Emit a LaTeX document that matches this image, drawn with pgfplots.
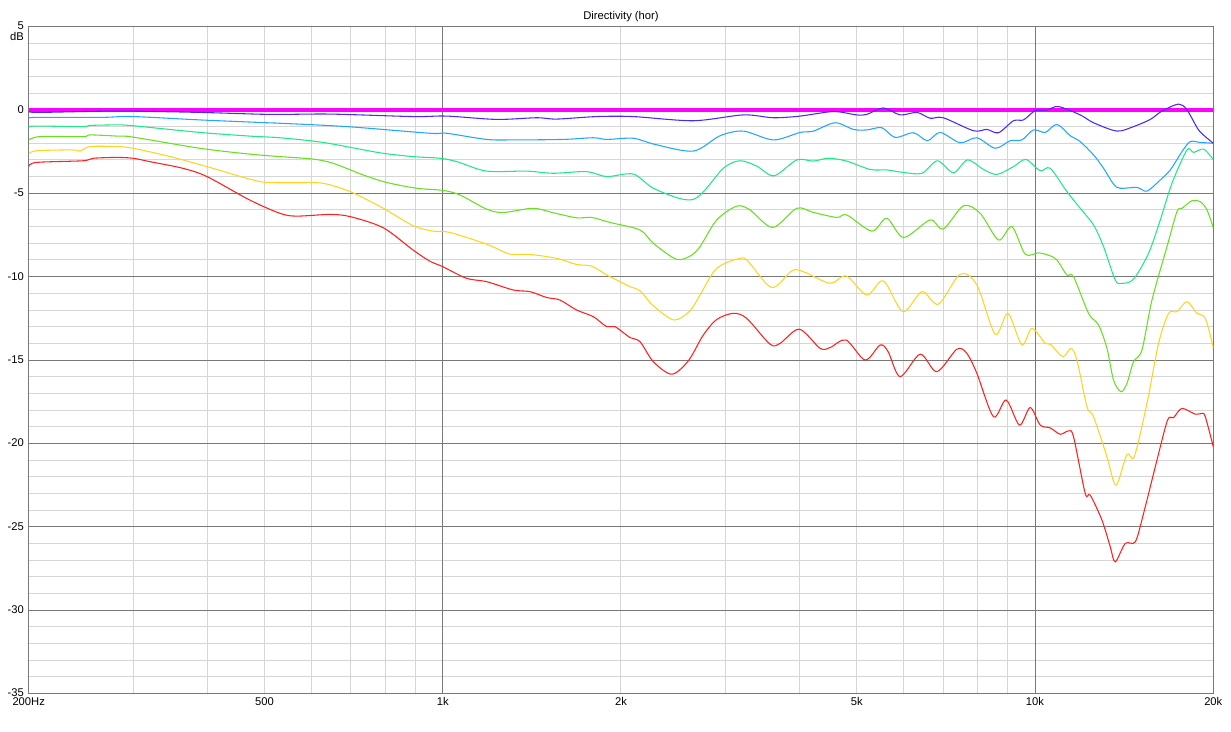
\documentclass[border=0pt]{standalone}
\usepackage{fontspec}
\setmainfont{Liberation Sans}
\usepackage{pgfplots}
\pgfplotsset{compat=1.18}
\definecolor{cRed}{HTML}{FF2020}
\definecolor{cYel}{HTML}{FFD420}
\definecolor{cGrn}{HTML}{66E020}
\definecolor{cTeal}{HTML}{20E888}
\definecolor{cLB}{HTML}{20A8FF}
\definecolor{cBV}{HTML}{4A28FF}
\definecolor{cMag}{HTML}{FF00FF}
\definecolor{gMin}{HTML}{D6D6D6}
\definecolor{gMaj}{HTML}{787878}
\begin{document}
\begin{tikzpicture}
\begin{axis}[name=ax,
  scale only axis, width=888.2pt, height=500.1pt,
  xmode=log, xmin=200, xmax=20000, ymin=-35, ymax=5,
  axis line style={gMaj, line width=0.75pt},
  major tick length=0pt, minor tick length=0pt,
  tick label style={font=\fontsize{8.4}{10}\selectfont, black},
  xtick={200,500,2000,5000,20000},
  xticklabels={200Hz,500,2k,5k,20k},
  extra x ticks={1000,10000},
  extra x tick labels={1k,10k},
  extra x tick style={grid=major},
  minor xtick={300,400,500,600,700,800,900,2000,3000,4000,5000,6000,7000,8000,9000},
  xmajorgrids=false, xminorgrids=true,
  ytick={-35,-30,-25,-20,-15,-10,-5,0,5},
  yticklabels={\raisebox{1.3pt}{-35},-30,-25,-20,-15,-10,-5,0,5},
  minor y tick num=4,
  ymajorgrids=true, yminorgrids=true,
  major grid style={gMaj, line width=0.75pt},
  minor grid style={gMin, line width=0.75pt},
  xticklabel style={anchor=north, inner sep=0pt, yshift=-2.6pt},
  yticklabel style={anchor=east, inner sep=0pt, xshift=-3.4pt, yshift=0.3pt},
  every axis plot/.append style={line width=0.8pt, smooth, tension=0.5},
]
\addplot[cMag, line width=2.4pt] coordinates {(200,0) (20000,0)};
\addplot[cRed] coordinates {(200,-3.4) (206,-3.15) (247,-3.05) (257,-2.9) (282,-2.85) (300,-2.9) (320,-3.1) (364,-3.5) (400,-4.0) (472,-5.4) (531,-6.2) (566,-6.37) (645,-6.27) (698,-6.4) (794,-7.07) (891,-8.4) (951,-9.07) (1000,-9.4) (1097,-10.1) (1186,-10.3) (1316,-10.8) (1404,-10.9) (1498,-11.25) (1577,-11.4) (1683,-12.0) (1796,-12.4) (1892,-13.0) (1954,-13.0) (2071,-13.65) (2153,-13.9) (2268,-15.1) (2436,-15.85) (2598,-15.05) (2754,-13.5) (2901,-12.57) (3095,-12.2) (3260,-12.5) (3570,-14.05) (3712,-14.0) (4000,-13.15) (4337,-14.3) (4509,-14.25) (4798,-13.8) (5166,-15.0) (5477,-14.1) (5650,-14.5) (5921,-16.0) (6400,-14.65) (6828,-15.7) (7380,-14.35) (7673,-14.6) (7978,-15.8) (8510,-18.4) (8940,-17.4) (9415,-18.9) (9815,-17.85) (10204,-18.9) (10609,-19.07) (11030,-19.45) (11392,-19.25) (11615,-19.6) (12156,-23.0) (12395,-23.1) (12972,-24.6) (13398,-26.2) (13660,-27.1) (14202,-26.0) (14766,-25.9) (15250,-24.2) (16066,-21.0) (16744,-18.6) (17138,-18.45) (17708,-17.9) (18648,-18.25) (19140,-18.2) (19388,-18.4) (20000,-20.2)};
\addplot[cYel] coordinates {(200,-2.65) (206,-2.45) (237,-2.4) (244,-2.47) (254,-2.2) (282,-2.2) (300,-2.3) (342,-2.75) (400,-3.4) (472,-4.15) (505,-4.35) (574,-4.37) (628,-4.4) (698,-4.9) (794,-5.9) (892,-6.95) (964,-7.27) (1028,-7.35) (1186,-8.05) (1299,-8.65) (1404,-8.67) (1557,-8.9) (1683,-9.27) (1785,-9.37) (1892,-9.9) (1967,-10.2) (2071,-10.6) (2153,-10.85) (2268,-11.75) (2458,-12.6) (2615,-12.05) (2719,-11.1) (2901,-9.5) (3177,-8.9) (3281,-9.1) (3594,-10.65) (3885,-9.65) (4064,-9.7) (4509,-10.4) (4798,-9.95) (5200,-11.1) (5547,-10.25) (5984,-12.1) (6443,-10.9) (6870,-11.65) (7475,-9.85) (7978,-10.5) (8566,-13.45) (9000,-12.2) (9503,-14.1) (9880,-13.1) (10405,-14.0) (10609,-14.05) (11146,-14.8) (11498,-14.3) (11770,-15.0) (12237,-17.8) (12555,-18.4) (13227,-20.8) (13698,-22.5) (14297,-20.65) (14708,-20.8) (15454,-17.6) (16166,-14.0) (16808,-12.2) (17366,-12.1) (18056,-11.5) (18772,-12.2) (19388,-12.5) (20000,-14.25)};
\addplot[cGrn] coordinates {(200,-1.8) (209,-1.6) (247,-1.6) (254,-1.5) (282,-1.57) (300,-1.63) (389,-2.3) (472,-2.65) (531,-2.8) (604,-2.95) (653,-3.2) (734,-3.9) (804,-4.35) (904,-4.7) (1002,-4.83) (1069,-5.1) (1186,-5.95) (1265,-6.15) (1422,-5.9) (1537,-6.17) (1683,-6.47) (1785,-6.45) (1916,-6.75) (2153,-7.2) (2268,-8.0) (2477,-8.95) (2615,-8.77) (2719,-8.2) (2901,-6.6) (3136,-5.77) (3302,-6.0) (3608,-7.05) (3961,-5.9) (4226,-6.15) (4628,-6.45) (4811,-6.3) (5302,-7.27) (5621,-6.5) (6000,-7.65) (6652,-6.6) (7000,-7.15) (7572,-5.75) (8082,-6.2) (8677,-7.8) (9141,-7.0) (9626,-8.65) (10137,-8.57) (10609,-8.75) (10889,-9.0) (11321,-9.9) (11615,-10.0) (12313,-12.2) (12802,-12.9) (13227,-14.3) (13570,-16.2) (13967,-16.9) (14297,-16.4) (14668,-15.1) (15156,-14.4) (15758,-11.4) (16704,-8.2) (17366,-6.1) (17708,-5.9) (18410,-5.45) (19014,-5.5) (19516,-6.0) (20000,-7.07)};
\addplot[cTeal] coordinates {(200,-1.05) (205,-0.97) (247,-1.0) (254,-0.93) (282,-0.9) (300,-0.95) (389,-1.35) (472,-1.57) (531,-1.67) (628,-1.95) (783,-2.57) (892,-2.8) (989,-2.9) (1056,-3.1) (1186,-3.67) (1386,-3.67) (1537,-3.8) (1750,-3.7) (1892,-4.0) (2098,-3.85) (2283,-4.75) (2649,-5.37) (2977,-3.5) (3177,-3.05) (3390,-3.37) (3626,-3.95) (3961,-3.0) (4226,-3.07) (4479,-2.9) (4811,-3.07) (5267,-3.57) (5621,-3.6) (6000,-3.75) (6443,-3.8) (6844,-3.05) (7284,-3.77) (7691,-3.0) (8186,-3.57) (8623,-3.87) (9198,-3.4) (9652,-2.97) (10204,-3.65) (10609,-3.5) (11321,-4.9) (11922,-5.9) (12555,-6.9) (13053,-8.2) (13660,-10.2) (14022,-10.4) (14668,-10.15) (15550,-8.6) (16274,-6.6) (17032,-4.4) (18056,-2.4) (18524,-2.55) (19260,-2.35) (20000,-2.97)};
\addplot[cLB] coordinates {(200,-0.5) (206,-0.45) (264,-0.45) (300,-0.4) (389,-0.6) (505,-0.77) (531,-0.8) (688,-1.0) (951,-1.4) (1015,-1.4) (1186,-1.77) (1316,-1.8) (1598,-1.77) (1796,-1.67) (1892,-1.77) (2098,-1.7) (2283,-2.07) (2649,-2.47) (2939,-1.55) (3218,-1.27) (3617,-1.8) (4013,-1.35) (4226,-1.27) (4597,-0.77) (4936,-1.17) (5200,-1.2) (5513,-1.07) (5807,-1.65) (6236,-1.37) (6583,-1.85) (6916,-1.35) (7475,-1.97) (7978,-1.67) (8566,-2.3) (9081,-1.85) (9503,-1.8) (9942,-1.2) (10405,-1.35) (10889,-0.87) (11467,-1.55) (11922,-1.9) (12555,-2.7) (13053,-3.5) (13570,-4.45) (13929,-4.7) (14864,-4.65) (15454,-4.87) (16274,-4.2) (16920,-3.6) (17708,-2.5) (18288,-1.9) (19014,-1.95) (20000,-2.0)};
\addplot[cBV] coordinates {(200,-0.1) (209,-0.15) (282,-0.07) (389,-0.15) (511,-0.27) (645,-0.25) (892,-0.4) (1015,-0.37) (1233,-0.57) (1441,-0.47) (1557,-0.55) (1820,-0.4) (2098,-0.4) (2649,-0.65) (3218,-0.3) (3617,-0.47) (4013,-0.37) (4567,-0.1) (5000,-0.3) (5200,-0.27) (5547,0.12) (5921,-0.3) (6319,-0.15) (6652,-0.5) (7000,-0.47) (7874,-1.25) (8294,-1.17) (8677,-1.37) (9198,-0.65) (9563,-0.6) (10000,-0.05) (10474,0.0) (10957,0.2) (11922,-0.3) (12555,-0.77) (13751,-1.27) (14668,-1.0) (15654,-0.57) (16382,-0.07) (17474,0.35) (18056,0.0) (18888,-1.2) (19638,-1.77) (20000,-2.0)};
\end{axis}
\node[anchor=north east, inner sep=0pt, font=\fontsize{8.4}{10}\selectfont] at ([xshift=-3.4pt,yshift=-3.9pt]ax.north west) {dB};
\node[anchor=center, inner sep=0pt, font=\fontsize{8.4}{10}\selectfont] at ([yshift=7.1pt]ax.north) {Directivity (hor)};
\pgfresetboundingbox
\path ([xshift=-21.5pt,yshift=-28.3pt]ax.south west) rectangle ([xshift=13.3pt,yshift=19.9pt]ax.north east);
\end{tikzpicture}
\end{document}
